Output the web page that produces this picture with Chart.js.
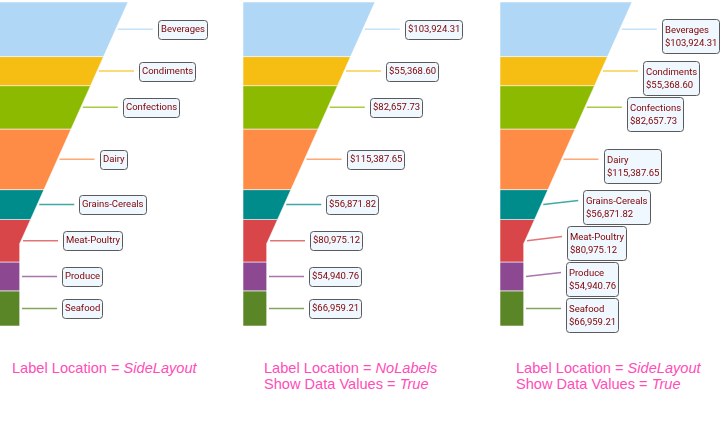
<!DOCTYPE html>
<html>
<head>
<meta charset="utf-8">
<script src="https://cdn.jsdelivr.net/npm/chart.js@4.4.0/dist/chart.umd.min.js"></script>
<style>
body { margin: 0; background: #fff; width: 721px; height: 428px; overflow: hidden; position: relative; }
.box { position: absolute; top: 0; height: 340px; }
.caption { position: absolute; top: 360px; font: 14.6px "Liberation Sans", Arial, sans-serif; color: #ff4db8; line-height: 16px; white-space: nowrap; }
</style>
</head>
<body>
<div class="box" style="left:-4px;width:244px"><canvas id="funnel1"></canvas></div>
<div class="box" style="left:243px;width:240px"><canvas id="funnel2"></canvas></div>
<div class="box" style="left:500px;width:221px"><canvas id="funnel3"></canvas></div>
<div class="caption" style="left:12px">Label Location = <i>SideLayout</i></div>
<div class="caption" style="left:264px">Label Location = <i>NoLabels</i><br>Show Data Values = <i>True</i></div>
<div class="caption" style="left:516px">Label Location = <i>SideLayout</i><br>Show Data Values = <i>True</i></div>
<script>
const categories = ['Beverages', 'Condiments', 'Confections', 'Dairy', 'Grains-Cereals', 'Meat-Poultry', 'Produce', 'Seafood'];
const sales = [103924.31, 55368.60, 82657.73, 115387.65, 56871.82, 80975.12, 54940.76, 66959.21];
const colors = ['#b0d8f6', '#f6be12', '#8cba00', '#ff8c46', '#008c8a', '#d8464a', '#8c4890', '#5a8628'];

// funnel shape (half funnel, left edge is the axis)
const TOP_WIDTH = 132;
const NECK_WIDTH = 24;
const NECK_AT = 0.744;

const total = sales.reduce((a, b) => a + b, 0);
const cumulative = [];
sales.reduce((acc, v, i) => { cumulative[i] = acc; return acc + v; }, 0);
const neckValue = total * NECK_AT;

function edgeWidth(v) {
    if (v >= neckValue) return NECK_WIDTH;
    return TOP_WIDTH - (TOP_WIDTH - NECK_WIDTH) * v / neckValue;
}

function money(v) {
    return '$' + v.toLocaleString('en-US', { minimumFractionDigits: 2, maximumFractionDigits: 2 });
}

function segmentPoints(i) {
    const a = cumulative[i];
    const b = a + sales[i];
    const pts = [{ x: 0, y: a }, { x: edgeWidth(a), y: a }];
    if (a < neckValue && b > neckValue) pts.push({ x: NECK_WIDTH, y: neckValue });
    pts.push({ x: edgeWidth(b), y: b }, { x: 0, y: b }, { x: 0, y: a });
    return pts;
}

function withAlpha(hex, a) {
    const n = parseInt(hex.slice(1), 16);
    return `rgba(${n >> 16},${(n >> 8) & 255},${n & 255},${a})`;
}

const sideLabels = {
    id: 'sideLabels',
    afterDatasetsDraw(chart, args, opts) {
        const { ctx, scales: { x, y } } = chart;
        const lineH = 13;
        ctx.save();
        ctx.font = '9.5px Roboto, "Noto Sans", sans-serif';
        const items = categories.map((name, i) => {
            let lines;
            if (opts.mode === 'name') lines = [name];
            else if (opts.mode === 'value') lines = [money(sales[i])];
            else lines = [name, money(sales[i])];
            const mid = cumulative[i] + sales[i] / 2;
            const ay = y.getPixelForValue(mid);
            const ax = x.getPixelForValue(edgeWidth(mid)) + 2;
            const h = lines.length === 1 ? 19 : 34;
            const w = Math.max(...lines.map(t => ctx.measureText(t).width)) + 5;
            const off = lines.length === 1 ? 9.5 : 10;
            return { lines, ax, ay, h, w, off, top: ay - off, color: colors[i] };
        });
        // keep boxes from overlapping, pushing upward from the bottom one
        for (let i = items.length - 2; i >= 0; i--) {
            items[i].top = Math.min(items[i].top, items[i + 1].top - items[i].h - 2);
        }
        items.forEach(it => {
            const ex = it.ax + 35;
            const ey = it.top + it.off;
            ctx.strokeStyle = withAlpha(it.color, 0.75);
            ctx.lineWidth = 1.5;
            ctx.beginPath();
            ctx.moveTo(it.ax, it.ay);
            ctx.lineTo(ex, ey);
            ctx.stroke();

            const bx = Math.round(ex + 5);
            const by = Math.round(it.top);
            ctx.beginPath();
            ctx.roundRect(bx + 0.5, by + 0.5, Math.round(it.w), it.h, 3);
            ctx.fillStyle = '#f0f8ff';
            ctx.fill();
            ctx.strokeStyle = '#5a5a5a';
            ctx.lineWidth = 1;
            ctx.stroke();

            ctx.fillStyle = '#800000';
            ctx.textBaseline = 'middle';
            const first = it.lines.length === 1 ? 10 : 12;
            it.lines.forEach((t, k) => {
                ctx.fillText(t, bx + 3, by + first + k * lineH);
            });
        });
        ctx.restore();
    }
};

function makeFunnel(id, width, mode) {
    const ctx = document.getElementById(id).getContext('2d');
    return new Chart(ctx, {
        type: 'line',
        data: {
            datasets: categories.map((name, i) => ({
                label: name,
                data: segmentPoints(i),
                backgroundColor: colors[i],
                borderColor: 'rgba(255,255,255,0.55)',
                borderWidth: 1,
                pointRadius: 0,
                tension: 0,
                fill: 'shape'
            }))
        },
        options: {
            responsive: true,
            maintainAspectRatio: false,
            animation: false,
            events: [],
            layout: { padding: { top: 2, bottom: 14, left: 0, right: 0 } },
            scales: {
                x: { type: 'linear', min: 0, max: width, display: false },
                y: { type: 'linear', min: 0, max: total, reverse: true, display: false }
            },
            plugins: {
                legend: { display: false },
                tooltip: { enabled: false },
                sideLabels: { mode: mode }
            }
        },
        plugins: [sideLabels]
    });
}

makeFunnel('funnel1', 244, 'name');
makeFunnel('funnel2', 240, 'value');
makeFunnel('funnel3', 221, 'both');
</script>
</body>
</html>
